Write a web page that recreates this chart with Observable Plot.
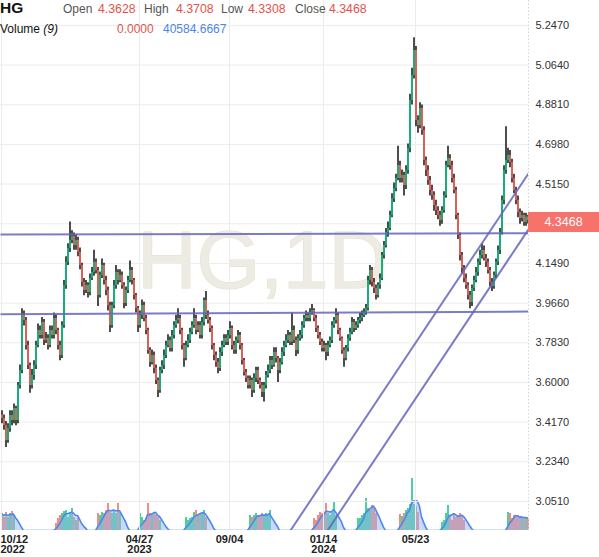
<!DOCTYPE html>
<html><head><meta charset="utf-8">
<script src="https://cdn.jsdelivr.net/npm/d3@7"></script>
<script src="https://cdn.jsdelivr.net/npm/@observablehq/plot@0.6"></script>
<style>
body{margin:0;background:#fff;font-family:"Liberation Sans",Arial,sans-serif;}
#wrap{position:relative;width:599px;height:557px;overflow:hidden;background:#fff;}
#wrap svg{position:absolute;left:0;}
.h{position:absolute;white-space:nowrap;line-height:1;font-size:12px;color:#555;}
.r{color:#e2544c;font-size:12.3px;} .b{color:#4a86e8;} .k{color:#111;}
#price{position:absolute;left:528px;width:71px;height:20px;background:#f6726a;color:#fff;font-size:12.5px;line-height:20px;text-align:center;}
</style></head><body><div id="wrap"></div>
<script>
// ---- data ----
const open = [
3.450,3.434,3.401,3.332,3.387,3.448,3.424,3.480,3.424,3.586,
3.655,3.909,3.886,3.771,3.678,3.586,3.632,3.678,3.771,3.840,
3.817,3.877,3.794,3.803,3.771,3.840,3.817,3.895,3.840,3.771,
3.724,3.863,4.047,4.154,4.218,4.255,4.273,4.232,4.255,4.200,
4.140,4.061,4.024,4.047,4.015,4.080,4.107,4.154,4.117,4.001,
4.094,4.140,4.070,4.024,3.955,3.863,3.955,4.047,4.107,4.070,
4.094,4.047,3.964,4.024,4.070,4.117,4.070,4.001,3.941,3.863,
3.909,3.955,3.895,3.840,3.747,3.692,3.724,3.664,3.609,3.563,
3.655,3.678,3.724,3.771,3.794,3.757,3.817,3.863,3.886,3.895,
3.840,3.771,3.710,3.771,3.794,3.831,3.863,3.895,3.840,3.863,
3.817,3.877,3.978,3.909,3.886,3.849,3.771,3.724,3.692,3.664,
3.738,3.771,3.803,3.785,3.817,3.849,3.771,3.747,3.794,3.817,
3.771,3.701,3.646,3.618,3.586,3.609,3.563,3.618,3.655,3.609,
3.586,3.554,3.586,3.632,3.655,3.701,3.678,3.738,3.710,3.655,
3.692,3.738,3.771,3.794,3.817,3.785,3.840,3.794,3.747,3.803,
3.817,3.863,3.895,3.909,3.895,3.923,3.932,3.895,3.849,3.817,
3.785,3.757,3.771,3.738,3.771,3.794,3.863,3.886,3.909,3.840,
3.803,3.747,3.710,3.757,3.803,3.831,3.877,3.849,3.863,3.886,
3.895,3.909,3.923,3.941,4.070,4.117,4.061,4.033,4.001,4.047,
4.080,4.186,4.232,4.292,4.310,4.370,4.448,4.495,4.541,4.601,
4.541,4.555,4.509,4.578,4.679,4.901,5.016,5.131,4.808,4.785,
4.864,4.762,4.624,4.578,4.532,4.486,4.463,4.416,4.393,4.370,
4.347,4.393,4.463,4.601,4.633,4.601,4.541,4.486,4.370,4.278,
4.186,4.126,4.080,4.047,4.001,3.969,4.033,4.070,4.107,4.154,
4.186,4.209,4.172,4.154,4.117,4.061,4.043,4.094,4.154,4.209,
4.292,4.439,4.578,4.624,4.647,4.615,4.541,4.486,4.439,4.384,
4.356,4.370,4.338,4.3628];
const high = [
3.47,3.45,3.42,3.41,3.47,3.47,3.50,3.49,3.60,3.68,
3.94,3.93,3.90,3.79,3.69,3.66,3.70,3.79,3.87,3.86,
3.90,3.89,3.83,3.82,3.86,3.86,3.92,3.91,3.85,3.79,
3.88,4.07,4.18,4.24,4.34,4.30,4.29,4.28,4.27,4.22,
4.15,4.08,4.07,4.06,4.10,4.13,4.21,4.17,4.13,4.11,
4.17,4.15,4.09,4.04,3.97,3.97,4.07,4.14,4.12,4.12,
4.11,4.06,4.04,4.09,4.16,4.13,4.08,4.01,3.95,3.93,
3.98,3.97,3.91,3.85,3.76,3.75,3.74,3.68,3.62,3.67,
3.70,3.75,3.79,3.82,3.81,3.84,3.88,3.91,3.94,3.91,
3.85,3.78,3.79,3.82,3.85,3.88,3.94,3.91,3.88,3.88,
3.90,3.99,4.02,3.93,3.90,3.86,3.78,3.74,3.71,3.76,
3.79,3.82,3.82,3.84,3.88,3.86,3.79,3.81,3.84,3.83,
3.78,3.71,3.66,3.63,3.63,3.62,3.64,3.67,3.67,3.62,
3.60,3.60,3.65,3.68,3.72,3.72,3.76,3.76,3.72,3.71,
3.76,3.79,3.82,3.84,3.83,3.92,3.86,3.81,3.82,3.84,
3.88,3.91,3.93,3.92,3.94,3.96,3.94,3.91,3.86,3.83,
3.80,3.79,3.78,3.79,3.81,3.88,3.90,3.94,3.92,3.85,
3.81,3.76,3.77,3.82,3.85,3.90,3.89,3.88,3.90,3.92,
3.93,3.94,3.96,4.09,4.14,4.13,4.08,4.05,4.06,4.10,
4.20,4.25,4.31,4.34,4.39,4.47,4.52,4.56,4.69,4.62,
4.58,4.57,4.60,4.70,4.93,5.05,5.19,5.15,4.83,4.89,
4.88,4.78,4.64,4.60,4.55,4.51,4.48,4.44,4.41,4.39,
4.41,4.48,4.62,4.69,4.65,4.62,4.56,4.50,4.38,4.29,
4.20,4.14,4.10,4.06,4.02,4.05,4.09,4.13,4.17,4.21,
4.24,4.23,4.19,4.17,4.13,4.08,4.11,4.17,4.23,4.31,
4.46,4.60,4.78,4.68,4.67,4.63,4.56,4.50,4.46,4.40,
4.39,4.38,4.38,4.3708];
const low = [
3.41,3.38,3.30,3.32,3.37,3.40,3.41,3.40,3.41,3.57,
3.64,3.86,3.75,3.66,3.55,3.57,3.61,3.66,3.76,3.80,
3.80,3.77,3.78,3.75,3.76,3.80,3.80,3.82,3.75,3.70,
3.71,3.85,4.03,4.14,4.20,4.24,4.21,4.21,4.18,4.12,
4.04,4.00,4.01,3.99,4.00,4.07,4.09,4.10,3.95,3.99,
4.08,4.05,4.00,3.93,3.83,3.85,3.94,4.03,4.05,4.06,
4.03,3.94,3.95,4.01,4.06,4.05,3.98,3.92,3.83,3.85,
3.89,3.88,3.82,3.73,3.67,3.68,3.64,3.59,3.53,3.55,
3.64,3.66,3.71,3.76,3.74,3.74,3.80,3.85,3.87,3.82,
3.75,3.67,3.70,3.76,3.78,3.82,3.85,3.82,3.83,3.80,
3.80,3.86,3.89,3.87,3.83,3.75,3.70,3.67,3.64,3.65,
3.72,3.76,3.77,3.77,3.80,3.75,3.73,3.73,3.78,3.75,
3.68,3.63,3.60,3.57,3.57,3.53,3.55,3.60,3.59,3.57,
3.53,3.51,3.57,3.62,3.64,3.66,3.67,3.69,3.60,3.64,
3.68,3.72,3.76,3.78,3.77,3.77,3.78,3.72,3.73,3.79,
3.80,3.85,3.88,3.88,3.88,3.91,3.88,3.83,3.80,3.77,
3.74,3.74,3.70,3.72,3.76,3.78,3.85,3.87,3.82,3.79,
3.73,3.67,3.70,3.74,3.79,3.82,3.83,3.84,3.85,3.87,
3.88,3.90,3.91,3.93,4.05,4.04,4.01,3.98,3.99,4.03,
4.07,4.17,4.22,4.27,4.30,4.36,4.43,4.48,4.53,4.52,
4.52,4.46,4.49,4.56,4.66,4.88,5.00,4.78,4.75,4.77,
4.74,4.60,4.55,4.51,4.46,4.44,4.39,4.37,4.35,4.32,
4.33,4.38,4.45,4.59,4.58,4.52,4.47,4.35,4.26,4.16,
4.10,4.06,4.03,3.98,3.94,3.95,4.02,4.06,4.09,4.14,
4.17,4.16,4.13,4.10,4.04,4.02,4.03,4.08,4.14,4.19,
4.28,4.42,4.56,4.61,4.59,4.52,4.47,4.42,4.36,4.33,
4.34,4.32,4.32,4.3308];
const close = [
3.434,3.401,3.332,3.387,3.448,3.424,3.480,3.424,3.586,3.655,
3.909,3.886,3.771,3.678,3.586,3.632,3.678,3.771,3.840,3.817,
3.877,3.794,3.803,3.771,3.840,3.817,3.895,3.840,3.771,3.724,
3.863,4.047,4.154,4.218,4.255,4.273,4.232,4.255,4.200,4.140,
4.061,4.024,4.047,4.015,4.080,4.107,4.154,4.117,4.001,4.094,
4.140,4.070,4.024,3.955,3.863,3.955,4.047,4.107,4.070,4.094,
4.047,3.964,4.024,4.070,4.117,4.070,4.001,3.941,3.863,3.909,
3.955,3.895,3.840,3.747,3.692,3.724,3.664,3.609,3.563,3.655,
3.678,3.724,3.771,3.794,3.757,3.817,3.863,3.886,3.895,3.840,
3.771,3.710,3.771,3.794,3.831,3.863,3.895,3.840,3.863,3.817,
3.877,3.978,3.909,3.886,3.849,3.771,3.724,3.692,3.664,3.738,
3.771,3.803,3.785,3.817,3.849,3.771,3.747,3.794,3.817,3.771,
3.701,3.646,3.618,3.586,3.609,3.563,3.618,3.655,3.609,3.586,
3.554,3.586,3.632,3.655,3.701,3.678,3.738,3.710,3.655,3.692,
3.738,3.771,3.794,3.817,3.785,3.840,3.794,3.747,3.803,3.817,
3.863,3.895,3.909,3.895,3.923,3.932,3.895,3.849,3.817,3.785,
3.757,3.771,3.738,3.771,3.794,3.863,3.886,3.909,3.840,3.803,
3.747,3.710,3.757,3.803,3.831,3.877,3.849,3.863,3.886,3.895,
3.909,3.923,3.941,4.070,4.117,4.061,4.033,4.001,4.047,4.080,
4.186,4.232,4.292,4.310,4.370,4.448,4.495,4.541,4.601,4.541,
4.555,4.509,4.578,4.679,4.901,5.016,5.131,4.808,4.785,4.864,
4.762,4.624,4.578,4.532,4.486,4.463,4.416,4.393,4.370,4.347,
4.393,4.463,4.601,4.633,4.601,4.541,4.486,4.370,4.278,4.186,
4.126,4.080,4.047,4.001,3.969,4.033,4.070,4.107,4.154,4.186,
4.209,4.172,4.154,4.117,4.061,4.043,4.094,4.154,4.209,4.292,
4.439,4.578,4.624,4.647,4.615,4.541,4.486,4.439,4.384,4.356,
4.370,4.338,4.3628,4.3468];

// volume: clusters of bars (start bar index + values)
const volStarts = [0, 27, 48, 69, 92, 124, 156, 178, 199, 220, 253];
const volClusters = [
  [53100,40600,56300,40600,53100,59400,46900],
  [21900,37500,46900,53100,59400,62500,40600,56300,68800,40600,31300,37500],
  [53100,46900,56300,53100,62500,84400,56300,53100,62500,53100,84400,56300],
  [53100,40600,31300,37500,84400,53100,46900,53100,46900,40600,31300],
  [40600,31300,37500,40600,56300,62500,46900,53100,53100,62500,40600],
  [46900,40600,46900,53100,40600,46900,53100,46900,53100,46900,62500],
  [37500,31300,46900,56300,53100,53100,84400,53100,46900,56300,87500,46900],
  [37500,37500,46900,53100,100000,68800,62500,78100,68800,53100],
  [50000,43800,53100,62500,68800,81300,162500,81300,75000,56300],
  [25000,31300,53100,78100,46900,31300,53100,40600,46900,53100,46900,31300],
  [56300,53100,37500,46900,40600,46900,37500,40600,37500,40600,37500]
];

// axis ticks
const yTicks = [5.247, 5.064, 4.881, 4.698, 4.515, 4.332, 4.149, 3.966, 3.783, 3.600, 3.417, 3.234, 3.051];
const yTickLabels = [5.247, 5.064, 4.881, 4.698, 4.515, 4.149, 3.966, 3.783, 3.600, 3.417, 3.234, 3.051];
const xTickIdx = [0, 69, 114, 161, 207];
const xTickLabels = ["10/12\n2022", "04/27\n2023", "09/04", "01/14\n2024", "05/23"];

// drawn trend lines (bar index, price)
const trendX1 = [-0.5, -0.5, 144.5, 163];
const trendY1 = [4.282, 3.915, 2.917, 2.917];
const trendX2 = [263.5, 263.5, 263.5, 263.5];
const trendY2 = [4.288, 3.927, 4.564, 4.306];

const lastPrice = 4.3468;

// ---- build ----
const N = close.length;
const volume = new Array(N).fill(0);
volStarts.forEach((s, k) => volClusters[k].forEach((v, j) => { if (s + j < N) volume[s + j] = v; }));
const bars = d3.range(N).map(i => ({i, o: open[i], h: high[i], l: low[i], c: close[i], v: volume[i]}));
const GREEN = "#10c07f", RED = "#f3655a";
const col = d => d.c >= d.o ? GREEN : RED;
const trends = trendX1.map((x, k) => ({x1: x, y1: trendY1[k], x2: trendX2[k], y2: trendY2[k]}));
const ticks = xTickIdx.map((x, k) => ({x, label: xTickLabels[k]}));
const FONT = "Liberation Sans, Arial, sans-serif";

const wrap = document.getElementById("wrap");

const volPlot = Plot.plot({
  width: 599, height: 160, marginLeft: 0, marginRight: 71, marginTop: 0, marginBottom: 0,
  style: {background: "transparent"},
  x: {domain: [-0.5, N - 0.5], axis: null},
  y: {domain: [0, 500000], axis: null},
  marks: [
    Plot.ruleX(bars, {filter: d => d.v > 0, x: "i", dx: 0.5, y1: 0, y2: "v", stroke: col, strokeWidth: 1.5}),
    Plot.areaY(bars, Plot.windowY({k: 5, anchor: "end", reduce: "mean"}, {x: "i", y: "v", fill: "#93b6f0", fillOpacity: 0.5})),
    Plot.lineY(bars, Plot.windowY({k: 5, anchor: "end", reduce: "mean"}, {x: "i", y: "v", stroke: "#4f87ea", strokeWidth: 1.6}))
  ]
});
volPlot.style.top = "370px";
wrap.appendChild(volPlot);

const main = Plot.plot({
  width: 599, height: 557, marginLeft: 0, marginRight: 71, marginTop: 0, marginBottom: 27,
  style: {background: "transparent", fontFamily: FONT},
  x: {domain: [-0.5, N - 0.5], axis: null},
  y: {domain: [2.917, 5.362], axis: null},
  marks: [
    Plot.text(["HG,1D"], {frameAnchor: "middle", dx: -2, dy: -4, fontSize: 82, fill: "#eeebe3", stroke: "#e2ddd1", strokeWidth: 1, fontFamily: FONT}),
    Plot.ruleY(yTicks, {stroke: "#ececec"}),
    Plot.ruleX(xTickIdx, {stroke: "#ececec"}),
    Plot.ruleX([N - 0.5], {stroke: "#d4d4d4", strokeDasharray: "1.5,2"}),
    Plot.ruleX(bars, {x: "i", dx: 0.5, y1: "l", y2: "h", stroke: "#000", strokeWidth: 1.4}),
    Plot.ruleX(bars, {x: "i", dx: 0.5, y1: "o", y2: "c", stroke: col, strokeWidth: 1.7}),
    Plot.link(trends, {x1: "x1", y1: "y1", x2: "x2", y2: "y2", stroke: "#6565bb", strokeWidth: 2, strokeOpacity: 0.85, clip: true}),
    Plot.axisY(yTickLabels, {anchor: "right", tickSize: 0, tickPadding: 7, tickFormat: d3.format(".4f"), fontSize: 11, fill: "#333", fontFamily: FONT}),
    Plot.text(ticks.slice(0, 1), {x: "x", text: "label", frameAnchor: "bottom", lineAnchor: "top", dy: 5, textAnchor: "start", dx: -1, fontSize: 11, fontWeight: "bold", fill: "#222", lineHeight: 0.95, fontFamily: FONT}),
    Plot.text(ticks.slice(1), {x: "x", text: "label", frameAnchor: "bottom", lineAnchor: "top", dy: 5, fontSize: 11, fontWeight: "bold", fill: "#222", lineHeight: 0.95, fontFamily: FONT})
  ]
});
main.style.top = "0px";
wrap.appendChild(main);

// header
function span(html, left, top, cls, extra) {
  const s = document.createElement("div");
  s.className = "h " + (cls || "");
  s.innerHTML = html;
  s.style.left = left + "px"; s.style.top = top + "px";
  if (extra) Object.assign(s.style, extra);
  wrap.appendChild(s);
}
span("HG", 0, 0, "k", {fontWeight: "bold", fontSize: "15.5px"});
span("Open", 63, 3); span(open[N - 1].toFixed(4), 98, 3, "r");
span("High", 144, 3); span(high[N - 1].toFixed(4), 176, 3, "r");
span("Low", 221, 3); span(low[N - 1].toFixed(4), 248, 3, "r");
span("Close", 295, 3); span(close[N - 1].toFixed(4), 329, 3, "r");
span("Volume <i>(9)</i>", 0, 23, "k", {fontSize: "12px"});
span("0.0000", 117, 23, "r", {fontSize: "12px"});
span("40584.6667", 163, 23, "b", {fontSize: "12px"});

// last price label
const py = main.scale("y").apply(lastPrice);
const box = document.createElement("div");
box.id = "price";
box.textContent = lastPrice.toFixed(4);
box.style.top = (py - 8) + "px";
wrap.appendChild(box);
</script></body></html>
